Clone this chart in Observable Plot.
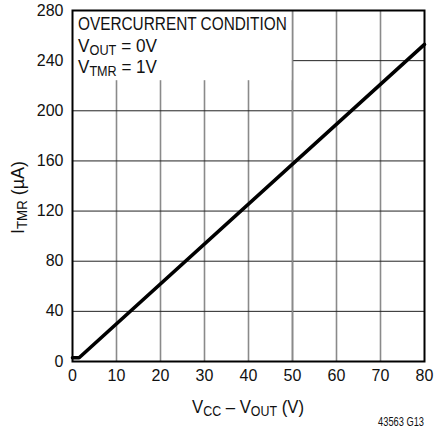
<!DOCTYPE html>
<html>
<head>
<meta charset="utf-8">
<script src="https://cdn.jsdelivr.net/npm/d3@7"></script>
<script src="https://cdn.jsdelivr.net/npm/@observablehq/plot@0.6"></script>
<style>
  html, body { margin: 0; padding: 0; background: #fff; }
  #chart svg { display: block; }
</style>
</head>
<body>
<div id="chart"></div>
<script>
// Data
const vccMinusVout = [0, 1.5, 80];          // V
const iTmr = [3, 3, 253];                   // µA
const xTicks = [0, 10, 20, 30, 40, 50, 60, 70, 80];
const yTicks = [0, 40, 80, 120, 160, 200, 240, 280];
const xGrid = [10, 20, 30, 40, 50, 60, 70];
const yGrid = [40, 80, 120, 160, 200, 240];
const noteBox = [{x1: 0, x2: 50, y1: 224, y2: 280}];

const FONT = '"Liberation Sans", Arial, sans-serif';

const curve = vccMinusVout.map((x, i) => ({x, y: iTmr[i]}));

const plot = Plot.plot({
  width: 435,
  height: 431,
  marginLeft: 72,
  marginRight: 11,
  marginTop: 10,
  marginBottom: 70,
  style: {fontFamily: FONT, fontSize: "16px", color: "#111", background: "#fff"},
  x: {domain: [0, 80], ticks: xTicks, tickSize: 0, tickPadding: 8, label: null},
  y: {domain: [0, 280], ticks: yTicks, tickSize: 0, tickPadding: 9, label: null},
  marks: [
    Plot.ruleX(xGrid, {stroke: "#8a8a8a", strokeWidth: 1.6}),
    Plot.ruleY(yGrid, {stroke: "#222", strokeWidth: 1}),
    Plot.rect(noteBox, {x1: "x1", x2: "x2", y1: "y1", y2: "y2", fill: "#fff"}),
    Plot.ruleX([50], {stroke: "#8a8a8a", strokeWidth: 1.6}),
    Plot.line(curve, {x: "x", y: "y", stroke: "#000", strokeWidth: 3.6}),
    Plot.frame({stroke: "#000", strokeWidth: 2})
  ]
});

document.getElementById("chart").appendChild(plot);

const svg = d3.select(plot);
const sx = plot.scale("x");
const sy = plot.scale("y");

// text with subscripts, horizontally condensed to a target width
function addText(x, y, parts, opts = {}) {
  const size = opts.size || 19;
  const g = svg.append("g");
  const t = g.append("text")
    .attr("font-family", FONT)
    .attr("font-size", size)
    .attr("fill", "#111")
    .attr("text-anchor", opts.anchor || "start");
  parts.forEach(p => {
    const s = t.append("tspan").text(p.t);
    if (p.sub) s.attr("font-size", size * 0.74).attr("dy", 3);
    else if (p.after) s.attr("dy", -3);
  });
  const w = t.node().getComputedTextLength();
  const k = opts.length && w > 0 ? opts.length / w : 1;
  g.attr("transform", `translate(${x},${y})${opts.rotate ? " rotate(-90)" : ""} scale(${k},1)`);
  return g;
}

const left = sx.apply(0) + 6;
addText(left, 29.5, [{t: "OVERCURRENT CONDITION"}], {length: 209});
addText(left, 51.5, [{t: "V"}, {t: "OUT", sub: true}, {t: " = 0V", after: true}], {length: 79});
addText(left, 72.5, [{t: "V"}, {t: "TMR", sub: true}, {t: " = 1V", after: true}], {length: 79});

// x-axis label
addText((sx.apply(0) + sx.apply(80)) / 2, 412.5,
  [{t: "V"}, {t: "CC", sub: true}, {t: " – V", after: true}, {t: "OUT", sub: true}, {t: " (V)", after: true}],
  {anchor: "middle", length: 112});

// y-axis label
addText(24, (sy.apply(0) + sy.apply(280)) / 2 + 12,
  [{t: "I"}, {t: "TMR", sub: true}, {t: " (µA)", after: true}],
  {anchor: "middle", rotate: true, length: 73});

// caption
addText(sx.apply(80), 426, [{t: "43563 G13"}], {anchor: "end", size: 12, length: 46});
</script>
</body>
</html>
